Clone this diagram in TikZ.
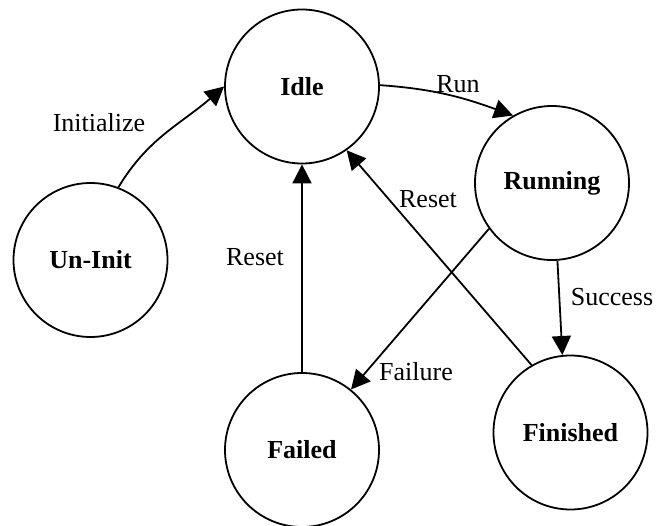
\documentclass[tikz,border=0pt]{standalone}
\usepackage{fontspec}
\setmainfont{Liberation Serif}
\usetikzlibrary{arrows.meta}
\begin{document}
\begin{tikzpicture}[x=1pt,y=-1pt,
  state/.style={circle,draw,line width=1.8pt,minimum size=154pt,inner sep=0pt,
    font=\fontsize{26}{30}\selectfont\bfseries},
  edge/.style={line width=1.8pt,-{Triangle[length=19pt,width=19pt]}},
  lbl/.style={font=\fontsize{26}{30}\selectfont,inner sep=0pt}]
\useasboundingbox (0,0) rectangle (656,526);
\node[state] (idle) at (302,86.5) {Idle};
\node[state] (running) at (552,183) {Running};
\node[state] (uninit) at (90.5,260) {Un-Init};
\node[state] (failed) at (302,450) {Failed};
\node[state] (finished) at (570.5,432.5) {Finished};

\draw[edge] (uninit.69) to[out=59,in=221] (idle.180);
\draw[edge] (idle.1) to[out=-4,in=160] (running.120.6);
\draw[edge] (failed.90) -- (idle.-90);
\draw[edge] (finished.120) -- (idle.-55.5);
\draw[edge] (running.216) -- (failed.51);
\draw[edge] (running.-86) -- (finished.96.8);

\node[lbl] (lInit) at (99,123) {Initialize};
\node[lbl] (lRun) at (458,84) {Run};
\node[lbl] (lReset1) at (255,257) {Reset};
\node[lbl] (lReset2) at (428,199) {Reset};
\node[lbl] (lFail) at (416,372) {Failure};
\node[lbl] (lSucc) at (612,297) {Success};
\end{tikzpicture}
\end{document}
